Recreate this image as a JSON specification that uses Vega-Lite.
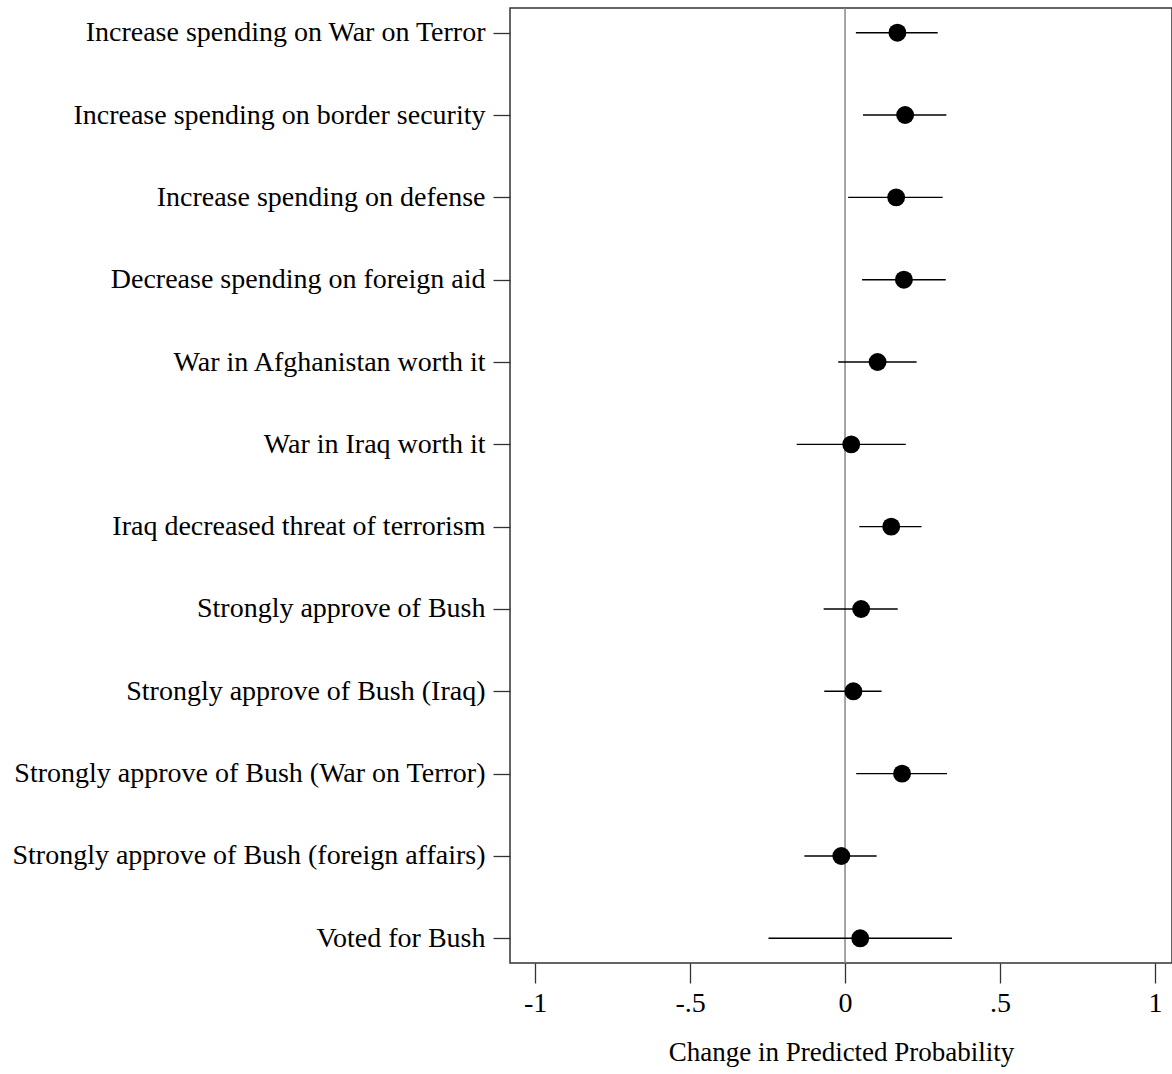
{
  "$schema": "https://vega.github.io/schema/vega-lite/v6.json",
  "autosize": {"type": "none"},
  "padding": {"left": 510, "top": 8, "right": 0, "bottom": 111},
  "width": 662,
  "height": 955,
  "background": "white",
  "config": {
    "font": "Liberation Serif",
    "view": {"stroke": "#333333", "strokeWidth": 1.5},
    "axis": {
      "labelFont": "Liberation Serif",
      "titleFont": "Liberation Serif",
      "labelColor": "black",
      "titleColor": "black",
      "labelFontSize": 28,
      "titleFontSize": 27,
      "titleFontWeight": "normal",
      "domain": false,
      "grid": false,
      "tickColor": "#333333",
      "tickWidth": 1.3
    }
  },
  "datasets": {
    "effects": [
      {"item": "Increase spending on War on Terror", "est": 0.169, "lo": 0.035, "hi": 0.299},
      {"item": "Increase spending on border security", "est": 0.194, "lo": 0.058, "hi": 0.327},
      {"item": "Increase spending on defense", "est": 0.165, "lo": 0.010, "hi": 0.315},
      {"item": "Decrease spending on foreign aid", "est": 0.190, "lo": 0.055, "hi": 0.325},
      {"item": "War in Afghanistan worth it", "est": 0.105, "lo": -0.022, "hi": 0.231},
      {"item": "War in Iraq worth it", "est": 0.020, "lo": -0.156, "hi": 0.196},
      {"item": "Iraq decreased threat of terrorism", "est": 0.149, "lo": 0.046, "hi": 0.247},
      {"item": "Strongly approve of Bush", "est": 0.052, "lo": -0.069, "hi": 0.170},
      {"item": "Strongly approve of Bush (Iraq)", "est": 0.027, "lo": -0.067, "hi": 0.118},
      {"item": "Strongly approve of Bush (War on Terror)", "est": 0.184, "lo": 0.036, "hi": 0.329},
      {"item": "Strongly approve of Bush (foreign affairs)", "est": -0.012, "lo": -0.131, "hi": 0.102},
      {"item": "Voted for Bush", "est": 0.049, "lo": -0.247, "hi": 0.345}
    ],
    "reference": [{"x": 0}]
  },
  "layer": [
    {
      "data": {"name": "reference"},
      "mark": {"type": "rule", "color": "#888888", "strokeWidth": 1.5},
      "encoding": {
        "x": {"field": "x", "type": "quantitative", "scale": {"domain": [-1.081, 1.055], "nice": false, "zero": false}}
      }
    },
    {
      "data": {"name": "effects"},
      "mark": {"type": "rule", "color": "black", "strokeWidth": 1.4},
      "encoding": {
        "y": {"field": "item", "type": "nominal", "sort": null},
        "x": {"field": "lo", "type": "quantitative"},
        "x2": {"field": "hi"}
      }
    },
    {
      "data": {"name": "effects"},
      "mark": {"type": "circle", "color": "black", "opacity": 1, "size": 320},
      "encoding": {
        "y": {
          "field": "item",
          "type": "nominal",
          "sort": null,
          "scale": {"type": "point", "padding": 0.3},
          "axis": {
            "title": null,
            "orient": "left",
            "tickSize": 17,
            "labelPadding": 8,
            "labelLimit": 600
          }
        },
        "x": {
          "field": "est",
          "type": "quantitative",
          "scale": {"domain": [-1.081, 1.055], "nice": false, "zero": false},
          "axis": {
            "title": "Change in Predicted Probability",
            "values": [-1, -0.5, 0, 0.5, 1],
            "labelExpr": "replace(toString(datum.value), '0.', '.')",
            "tickSize": 20,
            "labelPadding": 6,
            "titlePadding": 22
          }
        }
      }
    }
  ]
}
